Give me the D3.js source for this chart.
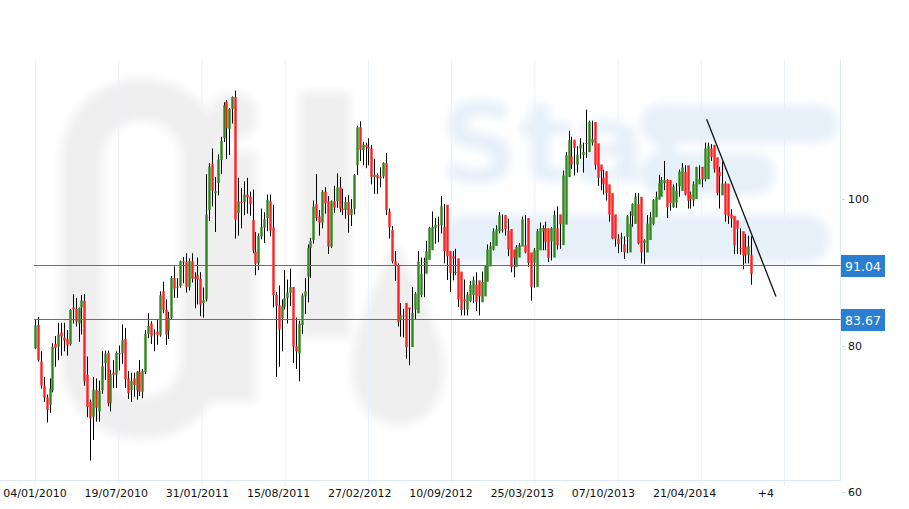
<!DOCTYPE html>
<html><head><meta charset="utf-8">
<script src="https://cdn.jsdelivr.net/npm/d3@7/dist/d3.min.js"></script>
<style>html,body{margin:0;padding:0;background:#fff;}svg{display:block;font-family:"DejaVu Sans",Verdana,sans-serif;}</style>
</head><body>
<svg id="c" width="909" height="509"></svg>
<script>
// ---- data (weekly candles, starting week of 04/01/2010) ----
const opens = [79.6,82.8,77.8,74.5,72.9,71.9,73.9,80.2,79.85,81.8,81.1,80.85,80.2,85.2,85.0,83.0,85.2,86.1,76.0,72.3,70.3,73.9,71.0,73.9,77.6,79.0,72.1,76.3,76.0,78.9,78.9,80.9,75.5,73.9,75.5,73.9,76.4,73.7,76.4,81.6,83.0,81.6,81.9,81.4,87.4,84.9,82.0,83.8,89.2,88.0,88.1,91.5,
91.4,88.0,91.5,89.1,89.6,89.1,85.8,86.3,98.5,104.8,100.8,102.2,105.3,108.3,113.3,109.6,112.3,113.9,98.1,99.6,99.6,100.6,100.3,97.1,92.8,91.2,94.9,96.1,97.4,99.7,96.1,86.9,85.5,83.7,85.3,86.5,87.2,87.96,79.9,78.9,82.8,86.7,89.4,93.3,94.4,99.3,97.6,96.8,101.0,99.7,93.5,99.7,
99.7,101.6,98.7,98.5,99.6,97.8,98.7,104.6,109.8,106.7,107.4,107.1,106.9,103.0,103.3,102.8,103.1,104.9,98.3,95.8,91.5,91.0,83.5,84.1,85.8,85.2,79.8,84.9,84.4,86.9,91.4,89.8,91.7,93.0,96.0,96.5,96.4,96.2,99.2,92.9,92.2,89.9,91.9,90.1,86.3,84.9,86.1,86.9,88.3,88.9,85.9,86.7,88.7,
90.8,93.1,93.6,95.6,95.9,97.8,95.7,95.9,93.1,90.7,92.0,93.5,93.7,97.4,92.7,91.3,88.0,93.0,95.6,96.0,96.0,94.2,92.0,96.0,97.9,93.7,96.5,103.0,105.8,108.1,104.7,106.9,106.0,107.5,106.4,107.7,110.5,107.6,104.7,102.9,103.8,102.0,100.8,97.9,94.6,94.6,93.8,94.8,92.7,97.7,96.6,99.3,
100.3,94.0,92.7,94.4,96.6,97.5,99.9,100.3,102.2,102.6,102.6,98.9,99.5,101.7,101.1,103.7,104.6,100.6,99.8,100.0,102.0,104.4,102.7,102.7,106.9,107.4,105.7,103.7,100.5,102.1,102.1,97.9,97.7,97.1,93.3,95.6,93.5,92.3,92.4,93.3];
const highs = [83.5,83.9,79.2,75.7,73.3,75.5,80.3,81.3,83.1,83.1,83.1,82.1,85.0,87.0,86.5,85.2,86.9,87.0,78.5,72.6,75.7,75.5,75.2,79.2,79.3,79.3,76.7,78.0,79.2,80.0,82.9,82.4,76.5,76.3,76.3,76.5,78.0,76.8,82.1,84.4,83.3,82.2,83.5,87.4,88.7,86.3,84.6,89.5,90.8,89.2,91.6,92.1,
92.6,91.9,92.6,90.0,92.0,90.0,87.9,103.4,104.9,106.9,103.0,106.1,108.5,113.2,113.5,112.4,114.0,114.8,102.9,101.5,102.4,102.9,101.0,101.3,95.5,95.3,98.7,98.2,100.6,100.6,99.2,87.3,88.2,86.3,90.3,89.0,90.5,88.0,83.8,83.4,87.1,89.2,93.8,94.7,99.8,103.4,98.5,101.2,101.6,100.4,99.8,101.8,
103.5,103.0,101.4,100.3,100.5,100.0,103.4,110.0,110.6,107.8,107.7,108.3,107.4,105.5,103.5,104.3,105.0,106.3,98.7,96.3,92.9,91.2,85.8,85.0,85.2,85.0,88.0,87.3,92.9,92.0,92.0,94.3,96.2,98.3,97.4,97.6,100.4,99.3,93.9,92.9,92.9,93.2,90.6,87.4,89.0,87.3,88.8,89.4,90.0,87.2,90.1,91.0,
93.8,94.1,96.0,96.4,98.2,97.9,97.8,97.3,93.5,92.4,93.7,94.0,97.6,97.8,94.9,91.5,93.3,95.9,96.8,96.4,96.9,95.0,96.2,98.4,99.0,97.2,103.9,106.4,109.3,108.5,108.0,107.2,108.3,107.7,112.2,110.7,110.7,108.7,105.0,104.1,104.0,102.6,101.2,98.6,95.3,95.2,95.4,94.9,97.8,98.3,99.4,100.8,
100.8,94.4,94.5,97.8,98.2,100.0,101.0,103.3,103.0,105.2,102.7,100.4,102.0,102.2,104.0,104.9,104.6,101.3,101.0,102.4,104.4,104.6,103.2,107.7,107.7,107.5,106.5,104.2,104.4,105.1,102.4,98.2,98.6,97.6,96.0,96.0,93.9,95.2,95.0,94.9];
const lows = [79.5,77.8,74.1,72.3,69.5,70.8,73.6,77.1,78.0,78.6,79.2,78.6,80.0,83.0,82.6,80.5,81.5,74.5,70.2,64.3,67.1,69.6,69.6,73.4,75.3,71.7,71.0,74.2,74.2,76.6,77.5,74.2,72.7,72.3,73.0,72.6,73.1,72.8,76.1,81.0,80.2,79.2,80.1,81.2,84.4,80.1,80.9,83.6,86.5,86.5,87.9,88.5,
87.2,87.5,88.6,85.1,85.6,84.0,83.8,86.0,97.0,99.0,95.5,100.5,103.4,107.8,105.5,106.0,110.3,94.6,95.0,96.0,97.8,98.0,97.7,92.6,89.6,90.3,94.5,94.0,95.6,94.9,85.2,75.7,77.1,79.2,84.9,83.0,85.4,77.6,76.8,75.1,81.6,84.3,85.9,89.2,93.9,97.0,95.0,96.0,98.0,92.5,93.3,98.1,
98.8,98.2,97.8,97.3,95.4,96.3,97.9,103.3,105.2,104.6,104.2,104.6,102.0,100.7,100.7,101.6,102.8,97.8,94.6,91.2,88.8,82.6,81.2,81.1,78.2,77.3,82.8,83.5,86.6,86.6,86.6,91.0,92.3,94.9,93.9,94.1,95.3,91.2,88.95,87.3,88.9,89.6,85.3,84.1,84.1,84.1,85.9,85.8,84.7,84.1,86.5,87.5,
90.3,91.9,93.0,94.6,95.3,95.4,95.0,92.2,90.0,89.3,91.0,92.1,93.6,92.6,90.7,86.1,87.9,90.6,94.7,93.0,93.0,91.4,91.6,94.5,93.1,93.2,96.2,102.2,104.3,104.1,103.2,103.6,105.5,103.6,105.6,106.5,107.3,104.0,101.8,101.2,100.6,99.8,96.9,94.5,93.5,92.6,92.8,91.8,92.6,96.0,96.2,98.8,
93.8,91.2,91.1,93.9,95.8,96.4,99.0,100.0,101.2,101.2,97.4,98.4,98.8,98.8,100.3,103.0,100.5,98.7,98.7,99.0,101.7,102.4,101.6,102.4,105.4,105.2,103.6,100.5,98.7,101.0,96.9,96.6,96.1,92.5,92.5,92.4,90.4,91.2,91.2,88.3];
const closes = [82.75,78.0,74.54,72.89,71.19,74.13,79.81,79.66,81.5,81.24,80.68,80.0,84.87,84.92,83.24,85.12,86.15,75.11,71.61,70.04,73.97,71.51,73.78,77.18,78.86,72.14,76.09,76.01,78.98,78.95,80.7,75.39,73.46,75.17,74.6,76.45,73.66,76.49,81.58,82.66,81.25,81.69,81.43,86.85,84.88,81.51,83.76,89.19,87.79,88.02,91.51,91.38,
88.03,91.54,89.11,89.34,89.03,85.58,86.2,97.88,104.42,101.16,101.07,105.4,107.94,112.79,109.66,112.29,113.93,97.18,99.65,99.49,100.59,100.22,99.29,93.01,91.16,94.94,96.2,97.24,99.87,95.7,86.88,85.38,82.26,85.37,86.45,87.24,87.96,79.85,79.2,82.98,86.8,87.4,93.32,94.26,98.99,97.41,96.77,100.96,99.41,93.53,99.68,98.83,
101.56,98.7,98.46,99.56,97.84,98.67,103.24,109.77,106.7,107.4,107.06,106.87,103.02,103.31,102.83,103.05,104.93,98.49,96.13,91.48,90.86,83.23,84.1,84.03,79.76,84.96,84.45,87.1,91.44,89.78,91.4,92.87,96.01,96.15,96.47,96.42,99.0,92.89,92.19,89.88,91.86,90.05,86.28,84.86,86.07,86.92,88.28,88.91,85.93,86.73,88.66,90.8,
93.09,93.56,95.56,95.88,97.77,95.72,95.86,93.13,90.68,91.95,93.45,93.71,97.23,92.7,91.29,88.01,93.0,95.61,96.04,96.02,94.15,91.97,96.03,97.85,93.69,96.56,103.22,105.95,108.05,104.7,106.94,106.03,107.46,106.42,107.65,110.53,108.21,104.67,102.87,103.84,102.02,100.81,97.85,94.61,94.6,93.84,94.84,92.72,97.65,96.6,99.32,100.32,
93.96,92.72,94.37,96.64,97.49,99.88,100.3,102.2,102.59,102.58,98.89,99.46,101.67,101.14,103.74,104.3,100.6,99.76,99.99,102.02,104.35,102.71,102.66,106.91,107.26,105.74,104.06,100.83,103.13,102.09,97.88,97.65,97.35,93.65,95.96,93.29,92.27,92.41,93.54,89.74];
const tickLabels = ["04/01/2010","19/07/2010","31/01/2011","15/08/2011","27/02/2012","10/09/2012","25/03/2013","07/10/2013","21/04/2014","+4"];
const tickEvery = 28;                 // candles between date labels
const yTicks = [100, 80, 60];
const levels = [91.04, 83.67];
const trend = [{i: 231.6, p: 110.9}, {i: 255.5, p: 86.7}];

// ---- layout ----
const plotRight = 840.5, plotBottom = 480.5, plotTop = 60;
const svg = d3.select("#c");
const n = closes.length;
const x = d3.scaleLinear().domain([0, 252]).range([35, 35 + 252 * 2.9]);
const gridX = d3.scaleLinear().domain([0, 9]).range([35.5, 784.5]);
const y = d3.scaleLinear().domain([60, 100]).range([492, 199]);

// ---- watermark ----
const defs = svg.append("defs");
defs.append("filter").attr("id", "blur").attr("x", "-20%").attr("y", "-20%").attr("width", "140%").attr("height", "140%")
  .append("feGaussianBlur").attr("stdDeviation", 5);
const gray = "#efefef", blue = "#e6f0f9";
const wm = svg.append("g").attr("filter", "url(#blur)");
wm.append("rect").attr("x", 82).attr("y", 100).attr("width", 120).attr("height", 318).attr("rx", 58)
  .attr("fill", "none").attr("stroke", gray).attr("stroke-width", 42);
wm.append("rect").attr("x", 212).attr("y", 95).attr("width", 44).attr("height", 42).attr("rx", 14).attr("fill", gray);
wm.append("rect").attr("x", 212).attr("y", 152).attr("width", 44).attr("height", 250).attr("fill", gray);
wm.append("rect").attr("x", 300).attr("y", 92).attr("width", 50).attr("height", 245).attr("fill", gray);
wm.append("path").attr("d", "M395,240 C370,300 352,330 352,370 C352,405 372,425 398,425 C424,425 444,405 444,370 C444,330 420,300 395,240 Z").attr("fill", gray);
wm.append("text").attr("x", 440).attr("y", 182).attr("font-size", 110).attr("font-weight", "bold")
  .attr("font-family", "DejaVu Sans").attr("fill", blue).text("Stat");
wm.append("rect").attr("x", 640).attr("y", 105).attr("width", 198).attr("height", 38).attr("rx", 19).attr("fill", blue);
wm.append("rect").attr("x", 640).attr("y", 153).attr("width", 135).attr("height", 42).attr("rx", 21).attr("fill", blue);
wm.append("rect").attr("x", 440).attr("y", 215).attr("width", 390).attr("height", 48).attr("rx", 24).attr("fill", blue);

// ---- grid & frame ----
svg.append("g").selectAll("line").data(d3.range(tickLabels.length)).join("line")
  .attr("x1", k => gridX(k)).attr("x2", k => gridX(k))
  .attr("y1", plotTop).attr("y2", plotBottom + 5)
  .attr("stroke", "#e9f0f8").attr("stroke-width", 1);
svg.append("line").attr("x1", 0).attr("x2", plotRight).attr("y1", plotBottom).attr("y2", plotBottom)
  .attr("stroke", "#dce8f4");
svg.append("line").attr("x1", plotRight).attr("x2", plotRight).attr("y1", plotTop).attr("y2", plotBottom)
  .attr("stroke", "#dce8f4");

// ---- candles ----
const idx = d3.range(n);
const g = svg.append("g");
g.selectAll("line.w").data(idx).join("line").attr("class", "w")
  .attr("x1", i => Math.round(x(i)) + 0.5).attr("x2", i => Math.round(x(i)) + 0.5)
  .attr("y1", i => y(highs[i])).attr("y2", i => y(lows[i]))
  .attr("stroke", "#000").attr("stroke-width", 1);
g.selectAll("rect.b").data(idx).join("rect").attr("class", "b")
  .attr("x", i => Math.round(x(i)) - 0.7).attr("width", 2.4)
  .attr("y", i => y(Math.max(opens[i], closes[i])))
  .attr("height", i => Math.max(1, Math.abs(y(opens[i]) - y(closes[i]))))
  .attr("fill", i => closes[i] >= opens[i] ? "#2f861c" : "#ff2020");

// ---- level lines ----
const lv = svg.append("g");
lv.selectAll("line").data(levels).join("line")
  .attr("x1", 34).attr("x2", plotRight).attr("y1", d => Math.round(y(d)) + 0.5).attr("y2", d => Math.round(y(d)) + 0.5)
  .attr("stroke", "#2c7bcc").attr("stroke-width", 1);
lv.selectAll("rect").data(levels).join("rect")
  .attr("x", 841).attr("width", 44).attr("y", d => Math.round(y(d)) - 10).attr("height", 22)
  .attr("fill", "#2b7fd3");
lv.selectAll("text").data(levels).join("text")
  .attr("x", 863).attr("y", d => Math.round(y(d)) + 5.5).attr("text-anchor", "middle")
  .attr("font-size", 12.5).attr("fill", "#fff").text(d => d.toFixed(2));

// ---- trend line ----
svg.append("path").datum(trend)
  .attr("d", d3.line().x(d => x(d.i)).y(d => y(d.p)))
  .attr("stroke", "#111").attr("stroke-width", 1.3).attr("fill", "none");

// ---- axes text ----
svg.append("g").selectAll("text").data(tickLabels).join("text")
  .attr("x", (d, k) => x(k * tickEvery)).attr("y", 497)
  .attr("text-anchor", "middle").attr("font-size", 11).attr("fill", "#111").text(d => d);
const ya = svg.append("g");
ya.selectAll("line").data(yTicks).join("line")
  .attr("x1", 842).attr("x2", 845).attr("y1", d => Math.round(y(d)) + 0.5).attr("y2", d => Math.round(y(d)) + 0.5)
  .attr("stroke", "#c9dcef");
ya.selectAll("text").data(yTicks).join("text")
  .attr("x", 848).attr("y", d => y(d) + 4).attr("font-size", 11).attr("fill", "#111").text(d => d);
</script>
</body></html>
